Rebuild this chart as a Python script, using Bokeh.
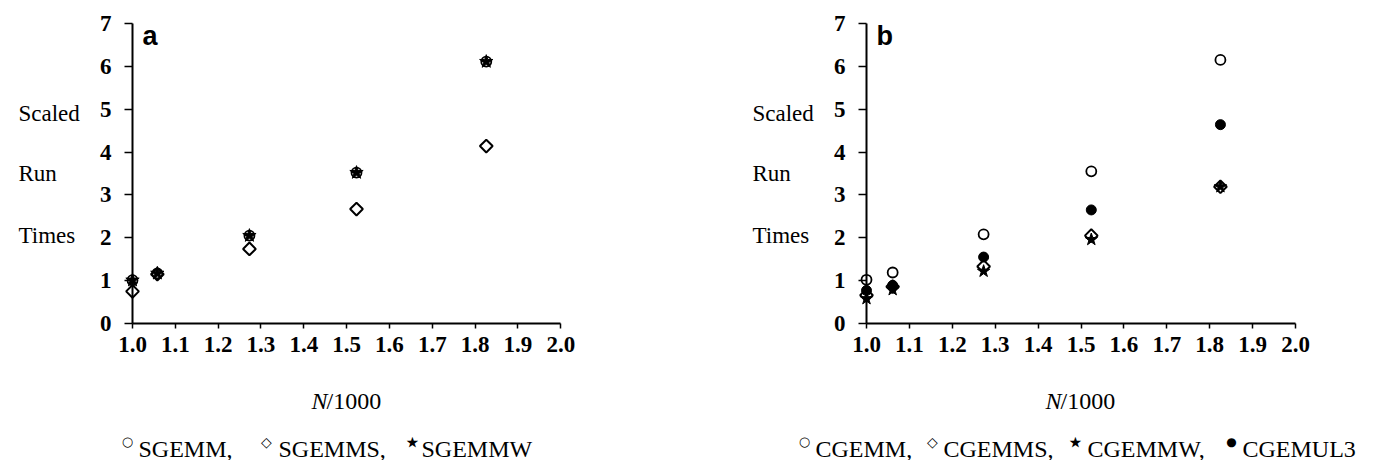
import math
from bokeh.plotting import figure
from bokeh.models import Range1d, FixedTicker, PrintfTickFormatter, Label
from bokeh.layouts import row
from bokeh.embed import file_html
from bokeh.resources import INLINE

# ---- data (panel a) ----
n_a = [1.0, 1.058, 1.273, 1.523, 1.826]
sgemm = [1.01, 1.17, 2.05, 3.52, 6.11]
sgemms = [0.75, 1.15, 1.74, 2.67, 4.14]
sgemmw = [1.01, 1.17, 2.05, 3.52, 6.11]

# ---- data (panel b) ----
n_b = [1.0, 1.061, 1.273, 1.524, 1.825]
cgemm = [1.02, 1.19, 2.08, 3.55, 6.15]
cgemms = [0.66, 0.86, 1.33, 2.05, 3.19]
cgemmw = [0.58, 0.79, 1.22, 1.96, 3.19]
cgemul3 = [0.77, 0.89, 1.55, 2.65, 4.64]

x_ticks = [1.0, 1.1, 1.2, 1.3, 1.4, 1.5, 1.6, 1.7, 1.8, 1.9, 2.0]
y_ticks = [0, 1, 2, 3, 4, 5, 6, 7]
ylabel_words = ["Scaled", "Run", "Times"]
ylabel_pos = [4.9, 3.5, 2.05]
legend_a = ["SGEMM,", "SGEMMS,", "SGEMMW"]
legend_a_sym = ["\u25cb", "\u25c7", "\u22c6"]
legend_b = ["CGEMM,", "CGEMMS,", "CGEMMW,", "CGEMUL3"]
legend_b_sym = ["\u25cb", "\u25c7", "\u22c6", "\u25cf"]
sym_sizes = {"\u25cb": "13px", "\u25c7": "14px", "\u22c6": "30px", "\u25cf": "12px"}

SERIF = "Liberation Serif"
SANS = "Liberation Sans"
SYMF = "DejaVu Sans"
H = 460
AX_X = 132      # pixel column of the y axis inside each figure
AX_Y = 323      # pixel row of the x axis
PY = 42.857     # pixels per y unit


def make_fig(width, sx, panel, names, syms, name_px, sym_px):
    p = figure(frame_width=width, frame_height=H,
               x_range=Range1d(1 - AX_X / sx, 1 + (width - AX_X) / sx),
               y_range=Range1d(-(H - AX_Y) / PY, AX_Y / PY),
               output_backend="svg", toolbar_location=None,
               min_border=0)
    p.outline_line_color = None
    p.xgrid.visible = False
    p.ygrid.visible = False

    def dx(px):
        return 1 + (px - AX_X) / sx

    def dy(py):
        return (AX_Y - py) / PY

    xa = p.xaxis[0]
    xa.fixed_location = 0
    xa.bounds = (1.0, 2.0)
    xa.ticker = FixedTicker(ticks=x_ticks)
    xa.formatter = PrintfTickFormatter(format="%.1f")
    xa.major_tick_in = 0
    xa.major_tick_out = 5
    xa.minor_tick_line_color = None
    xa.axis_line_width = 2
    xa.major_tick_line_width = 1.5
    xa.major_label_text_font = SERIF
    xa.major_label_text_font_style = "bold"
    xa.major_label_text_font_size = "23px"
    xa.major_label_standoff = 8
    xa.major_label_text_color = "black"

    ya = p.yaxis[0]
    ya.fixed_location = 1.0
    ya.bounds = (0, 7)
    ya.ticker = FixedTicker(ticks=y_ticks)
    ya.major_tick_in = 0
    ya.major_tick_out = 8
    ya.minor_tick_line_color = None
    ya.axis_line_width = 2
    ya.major_tick_line_width = 1.5
    ya.major_label_text_font = SERIF
    ya.major_label_text_font_style = "bold"
    ya.major_label_text_font_size = "23px"
    ya.major_label_standoff = 13
    ya.major_label_text_color = "black"

    for w, yv in zip(ylabel_words, ylabel_pos):
        p.add_layout(Label(x=dx(18), y=yv, text=w, text_font=SERIF,
                           text_font_size="23px", text_baseline="middle",
                           text_align="left", text_color="black"))
    p.add_layout(Label(x=dx(142), y=dy(35), text=panel, text_font=SANS,
                       text_font_style="bold", text_font_size="27px",
                       text_baseline="alphabetic", text_color="black"))
    # x axis title  N/1000
    p.add_layout(Label(x=dx(327), y=dy(400), text="N", text_font=SERIF,
                       text_font_style="italic", text_font_size="24px",
                       text_align="right", text_baseline="alphabetic",
                       text_color="black"))
    p.add_layout(Label(x=dx(326), y=dy(400), text="/1000", text_font=SERIF,
                       text_font_size="24px", text_align="left",
                       text_baseline="alphabetic", text_color="black"))
    # legend line
    for nm, sy, npx, spx in zip(names, syms, name_px, sym_px):
        p.add_layout(Label(x=dx(spx), y=dy(441), text=sy,
                           text_font=SYMF, text_font_size=sym_sizes[sy],
                           text_align="center", text_baseline="middle",
                           text_color="black"))
        p.add_layout(Label(x=dx(npx), y=dy(448), text=nm, text_font=SERIF,
                           text_font_size="24px", text_align="left",
                           text_baseline="alphabetic", text_color="black"))
    return p


pa = make_fig(734, 428.3, "a", legend_a, legend_a_sym,
              [138, 278, 421], [127, 266, 412])
pa.scatter(n_a, sgemm, marker="circle", size=10, line_color="black",
           line_width=1.8, fill_color=None)
pa.scatter(n_a, sgemms, marker="square", angle=math.pi / 4, size=9,
           line_color="black", line_width=2, fill_color=None)
pa.scatter(n_a, sgemmw, marker="star", size=14, line_color="black",
           line_width=1, fill_color="black")

pb = make_fig(640, 429.0, "b", legend_b, legend_b_sym,
              [81, 209, 353, 508], [70, 198, 341, 497])
pb.scatter(n_b, cgemm, marker="circle", size=10, line_color="black",
           line_width=1.8, fill_color=None)
pb.scatter(n_b, cgemms, marker="square", angle=math.pi / 4, size=9,
           line_color="black", line_width=2, fill_color=None)
pb.scatter(n_b, cgemul3, marker="circle", size=10, line_color="black",
           line_width=1, fill_color="black")
pb.scatter(n_b, cgemmw, marker="star", size=13, line_color="black",
           line_width=1, fill_color="black")

layout = row(pa, pb)
open("out.html", "w").write(file_html(layout, INLINE))
